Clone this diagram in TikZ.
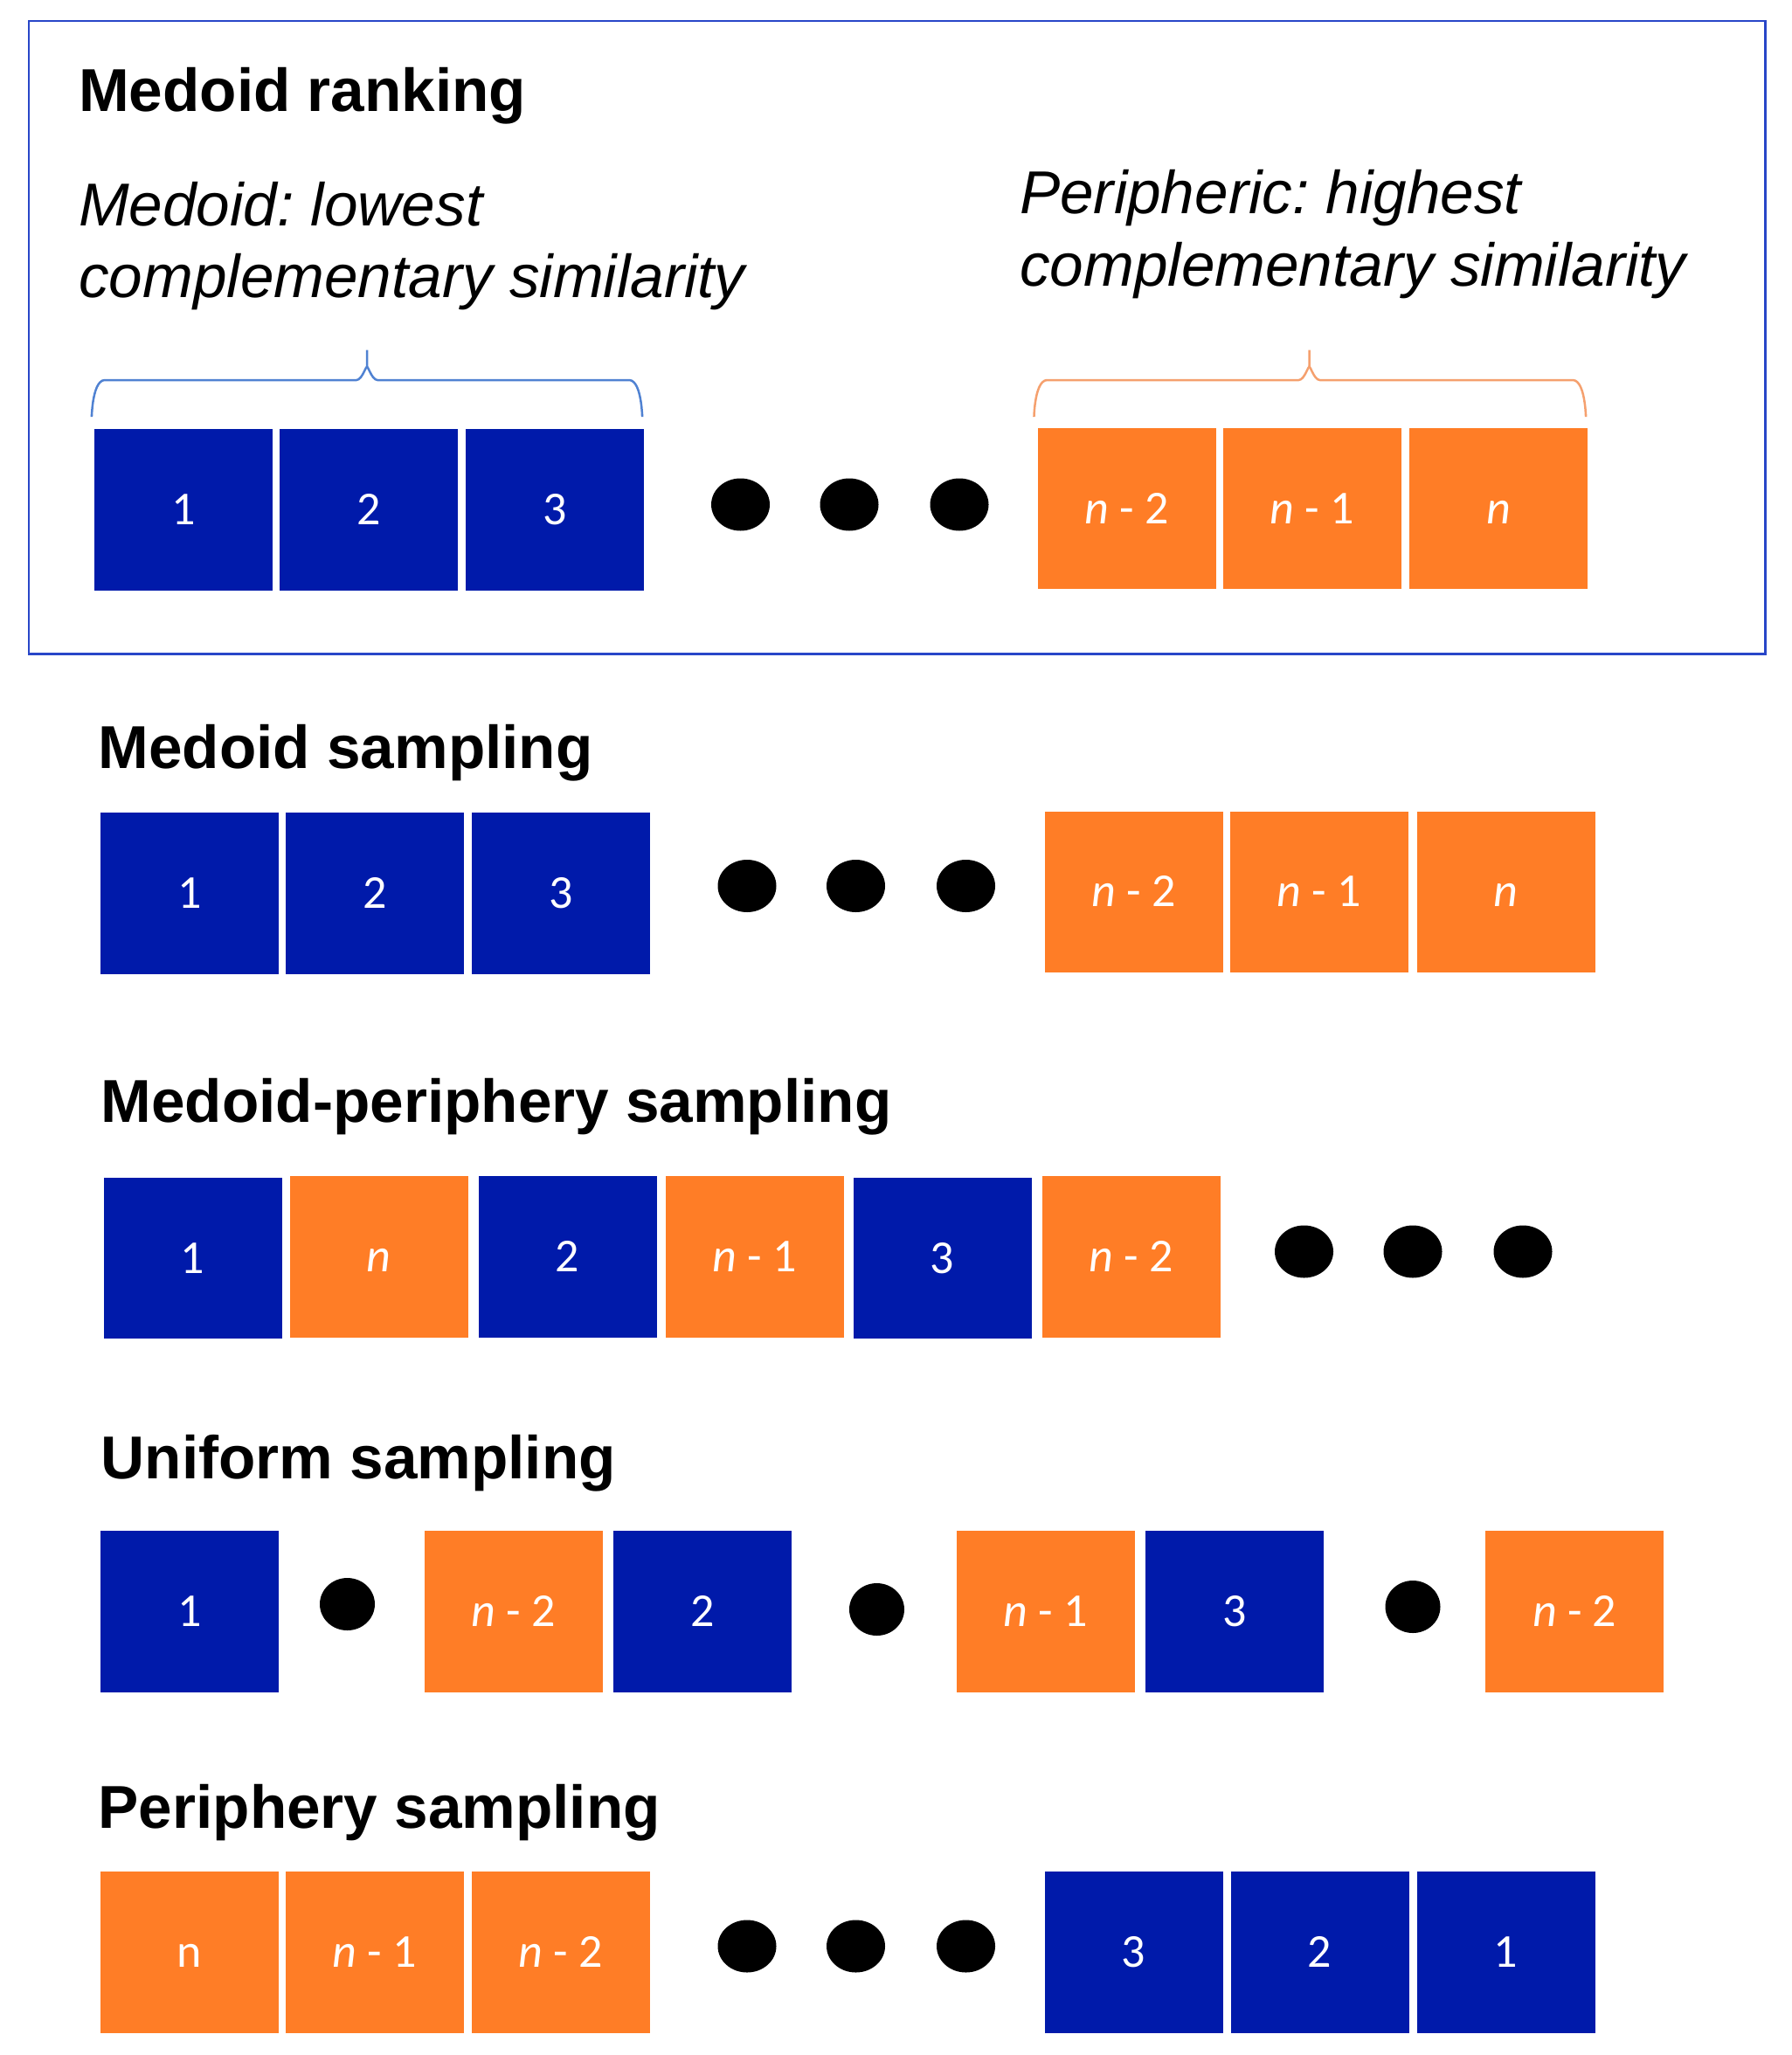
\documentclass[tikz,border=0pt]{standalone}
\usepackage{fontspec}
\setmainfont{Liberation Sans}
\newfontfamily\boxfont{Carlito}
\usetikzlibrary{shapes.geometric}
\definecolor{mblue}{RGB}{0,26,170}
\definecolor{morange}{RGB}{255,125,38}
\definecolor{frameblue}{RGB}{40,70,200}
\definecolor{braceblue}{RGB}{80,130,210}
\definecolor{braceorange}{RGB}{245,160,110}
\newcommand\nlab[1]{{\itshape n} - #1}
\frenchspacing
\begin{document}
\begin{tikzpicture}[x=1.5pt,y=-1.5pt,
 cell/.style={minimum width=204pt, minimum height=184.5pt, inner sep=0pt, text height=34pt, text depth=0pt, text=white, font=\boxfont\fontsize{54}{54}\selectfont},
 bluebox/.style={cell, fill=mblue},
 orangebox/.style={cell, fill=morange},
 blob/.style={ellipse, fill=black, minimum width=67pt, minimum height=60pt, inner sep=0pt},
 heading/.style={anchor=base west, font=\bfseries\fontsize{69.3}{69.3}\selectfont, inner sep=0pt},
 note/.style={anchor=base west, font=\itshape\fontsize{69.3}{84}\selectfont, inner sep=0pt},
 bracket/.style={line width=2.5pt}
]
\useasboundingbox (0,0) rectangle (1367,1568);
\fill[white] (0,0) rectangle (1367,1568);

% frame
\draw[frameblue, line width=2.5pt] (22,16) rectangle (1347,499);
\node[heading] (t0) at (60,85) {Medoid ranking};
\node[note] (m1) at (60,172) {Medoid: lowest};
\node[note] (m2) at (60,227) {complementary similarity};
\node[note] (p1) at (778,163) {Peripheric: highest};
\node[note] (p2) at (778,218) {complementary similarity};

% braces
\draw[braceblue, bracket] (70,316) to[out=-90,in=180] (80,290) -- (272,290) to[out=0,in=90] (280,281) -- (280,267);
\draw[braceblue, bracket] (490,316) to[out=-90,in=0] (480,290) -- (288,290) to[out=180,in=90] (280,281);
\draw[braceorange, bracket] (789,316) to[out=-90,in=180] (799,290) -- (991,290) to[out=0,in=90] (999,281) -- (999,267);
\draw[braceorange, bracket] (1210,316) to[out=-90,in=0] (1200,290) -- (1007,290) to[out=180,in=90] (999,281);

% row 1
\node[bluebox] (r1a) at (140,389) {1};
\node[bluebox] (r1b) at (281.5,389) {2};
\node[bluebox] (r1c) at (423.5,389) {3};
\node[blob] (r1d1) at (565,385) {};
\node[blob] (r1d2) at (648,385) {};
\node[blob] (r1d3) at (732,385) {};
\node[orangebox] (r1e) at (860,388) {\nlab{2}};
\node[orangebox] (r1f) at (1001,388) {\nlab{1}};
\node[orangebox] (r1g) at (1143.5,388) {\itshape n};

% row 2
\node[heading] (t1) at (75,586) {Medoid sampling};
\node[bluebox] (r2a) at (144.5,681.5) {1};
\node[bluebox] (r2b) at (286,681.5) {2};
\node[bluebox] (r2c) at (428,681.5) {3};
\node[blob] (r2d1) at (570,676) {};
\node[blob] (r2d2) at (653,676) {};
\node[blob] (r2d3) at (737,676) {};
\node[orangebox] (r2e) at (865,680.5) {\nlab{2}};
\node[orangebox] (r2f) at (1006.5,680.5) {\nlab{1}};
\node[orangebox] (r2g) at (1149,680.5) {\itshape n};

% row 3
\node[heading] (t2) at (77,856) {Medoid-periphery sampling};
\node[bluebox] (r3a) at (147,960) {1};
\node[orangebox] (r3b) at (289,959) {\itshape n};
\node[bluebox] (r3c) at (433,959) {2};
\node[orangebox] (r3d) at (576,959) {\nlab{1}};
\node[bluebox] (r3e) at (719,960) {3};
\node[orangebox] (r3f) at (863,959) {\nlab{2}};
\node[blob] (r3g1) at (995,955) {};
\node[blob] (r3g2) at (1078,955) {};
\node[blob] (r3g3) at (1162,955) {};

% row 4
\node[heading] (t3) at (77,1128) {Uniform sampling};
\node[bluebox] (r4a) at (144.5,1229.5) {1};
\node[blob, minimum width=63pt] (r4d1) at (265,1224) {};
\node[orangebox] (r4b) at (392,1229.5) {\nlab{2}};
\node[bluebox] (r4c) at (536,1229.5) {2};
\node[blob, minimum width=63pt] (r4d2) at (669,1228) {};
\node[orangebox] (r4e) at (798,1229.5) {\nlab{1}};
\node[bluebox] (r4f) at (942,1229.5) {3};
\node[blob, minimum width=63pt] (r4d3) at (1078,1226) {};
\node[orangebox] (r4g) at (1201.5,1229.5) {\nlab{2}};

% row 5
\node[heading] (t4) at (75,1395) {Periphery sampling};
\node[orangebox] (r5a) at (144.5,1489.5) {n};
\node[orangebox] (r5b) at (286,1489.5) {\nlab{1}};
\node[orangebox] (r5c) at (428,1489.5) {\nlab{2}};
\node[blob] (r5d1) at (570,1485) {};
\node[blob] (r5d2) at (653,1485) {};
\node[blob] (r5d3) at (737,1485) {};
\node[bluebox] (r5e) at (865,1489.5) {3};
\node[bluebox] (r5f) at (1007,1489.5) {2};
\node[bluebox] (r5g) at (1149,1489.5) {1};
\end{tikzpicture}
\end{document}
